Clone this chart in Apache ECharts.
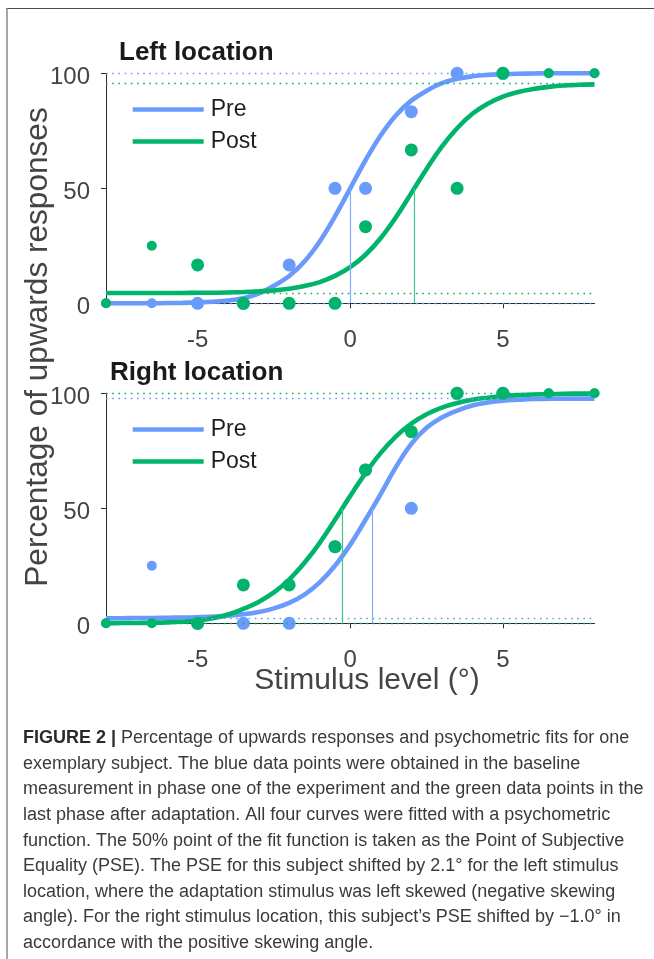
<!DOCTYPE html>
<html><head><meta charset="utf-8">
<script src="https://cdn.jsdelivr.net/npm/echarts@6/dist/echarts.min.js"></script>
<style>html,body{margin:0;padding:0;background:#fff}#c{width:654px;height:959px}</style>
</head><body><div id="c"></div>
<script>
// ---- data ----
const levels = [-8, -6.5, -5, -3.5, -2, -0.5, 0.5, 2, 3.5, 5, 6.5, 8];
const trials = [4, 4, 6, 6, 6, 6, 6, 6, 6, 6, 4, 4];
const leftPre   = [0, 0, 0, 0, 16.7, 50, 50, 83.3, 100, 100, 100, 100];
const leftPost  = [0, 25, 16.7, 0, 0, 0, 33.3, 66.7, 50, 100, 100, 100];
const rightPre  = [0, 25, 0, 0, 0, 33.3, 66.7, 50, 100, 100, 100, 100];
const rightPost = [0, 0, 0, 16.7, 16.7, 33.3, 66.7, 83.3, 100, 100, 100, 100];

const fitX = [-8,-7.5,-7,-6.5,-6,-5.5,-5,-4.5,-4,-3.5,-3,-2.5,-2,-1.5,-1,-0.5,0,0.5,1,1.5,2,2.5,3,3.5,4,4.5,5,5.5,6,6.5,7,7.5,8];
const leftPreFit   = [0,0,0,0,0.1,0.2,0.4,0.7,1.2,2.2,4.2,7.6,11.9,18.2,26.9,37.8,50,62.2,73.1,81.8,88.1,92.4,95.7,97.6,98.7,99.3,99.6,99.8,99.9,100,100,100,100];
const leftPostFit  = [4.5,4.5,4.5,4.5,4.5,4.5,4.6,4.6,4.7,4.9,5.2,5.6,6.3,7.5,9.2,11.9,15.7,21.1,28.4,37.5,47.9,58.4,68.1,76.1,82.4,86.8,89.9,91.9,93.2,94.1,94.7,95.0,95.2];
const rightPreFit  = [2.2,2.2,2.3,2.3,2.4,2.5,2.6,2.9,3.3,3.9,4.9,6.5,8.9,12.5,17.8,25.0,34.2,45.0,56.3,68.0,78.0,85.0,89.5,92.5,94.7,96.0,96.8,97.2,97.5,97.6,97.7,97.7,97.7];
const rightPostFit = [0.05,0.1,0.15,0.25,0.4,0.7,1.2,2.2,3.8,6.3,9.3,13.4,19.0,26.3,35.0,45.0,55.4,65.3,74.1,81.3,86.8,90.9,93.8,95.8,97.2,98.1,98.8,99.2,99.5,99.6,99.8,99.85,99.9];

const psePreLeft = 0, psePostLeft = 2.1, psePreRight = 0.72, psePostRight = -0.26;
const asymPreLeft = [0, 100], asymPostLeft = [4.4, 95.6];
const asymPreRight = [2.2, 97.8], asymPostRight = [0, 100];

const xTicks = [-5, 0, 5];
const yTicks = [0, 50, 100];
const seriesNames = ['Pre', 'Post'];
const panelTitles = ['Left location', 'Right location'];
const yTitle = 'Percentage of upwards responses';
const xTitle = 'Stimulus level (°)';
const captionLines = [
  '{b|FIGURE 2 |} Percentage of upwards responses and psychometric fits for one',
  'exemplary subject. The blue data points were obtained in the baseline',
  'measurement in phase one of the experiment and the green data points in the',
  'last phase after adaptation. All four curves were fitted with a psychometric',
  'function. The 50% point of the fit function is taken as the Point of Subjective',
  'Equality (PSE). The PSE for this subject shifted by 2.1° for the left stimulus',
  'location, where the adaptation stimulus was left skewed (negative skewing',
  'angle). For the right stimulus location, this subject’s PSE shifted by −1.0° in',
  'accordance with the positive skewing angle.'
];

// ---- style ----
const BLUE = '#6a9afc', GREEN = '#00b46c';
const BLUE_L = '#86adfd', GREEN_L = '#40c58f';
const FONT = '"Liberation Sans", Arial, Helvetica, sans-serif';
const AXC = '#2a2a2a', LBL = '#444';

const chart = echarts.init(document.getElementById('c'), null, {renderer: 'canvas'});

const grids = [
  {left: 106, top: 73.3, width: 488.5, height: 230},
  {left: 106, top: 393.3, width: 488.5, height: 230}
];

function xAxis(g) {
  return {
    type: 'value', gridIndex: g, min: -8, max: 8,
    axisLine: {show: true, onZero: false, lineStyle: {color: AXC, width: 1}},
    axisTick: {show: true, length: 5, customValues: xTicks, lineStyle: {color: AXC}},
    axisLabel: {show: true, customValues: xTicks, fontSize: 24, color: LBL, fontFamily: FONT, margin: 25},
    splitLine: {show: false}
  };
}
function yAxis(g) {
  return {
    type: 'value', gridIndex: g, min: 0, max: 100, interval: 50,
    axisLine: {show: true, onZero: false, lineStyle: {color: AXC, width: 1}},
    axisTick: {show: true, length: 5, customValues: yTicks, lineStyle: {color: AXC}},
    axisLabel: {show: true, customValues: yTicks, margin: 16,
      formatter: v => '{a|' + v + '}',
      rich: {a: {fontSize: 24, color: LBL, fontFamily: FONT, padding: [8, 0, 0, 0]}}},
    splitLine: {show: false}
  };
}

function dotSize(v) { return 4 + 1.5 * v[2]; }

function fitSeries(g, name, fit, color, colorL, pse, asym, z) {
  return {
    type: 'line', name: name, xAxisIndex: g, yAxisIndex: g,
    data: fitX.map((x, i) => [x, fit[i]]),
    smooth: 0.4, showSymbol: false, symbol: 'none', clip: false, z: z,
    color: color,
    lineStyle: {color: color, width: 4.6, cap: 'butt'},
    emphasis: {disabled: true},
    markLine: {
      silent: true, symbol: 'none', label: {show: false}, animation: false,
      emphasis: {disabled: true},
      data: [
        {yAxis: asym[0], lineStyle: {color: color, type: [1.6, 4.6], width: 1.3}},
        {yAxis: asym[1], lineStyle: {color: color, type: [1.6, 4.6], width: 1.3}},
        [{coord: [pse, 0], lineStyle: {color: colorL, type: 'solid', width: 1.2}}, {coord: [pse, 50]}]
      ]
    }
  };
}
function dotSeries(g, name, vals, color, z) {
  return {
    type: 'scatter', name: name, xAxisIndex: g, yAxisIndex: g,
    data: levels.map((x, i) => [x, vals[i], trials[i]]),
    symbol: 'circle', symbolSize: dotSize, clip: false, z: z,
    itemStyle: {color: color, opacity: 1},
    emphasis: {disabled: true}
  };
}

const series = [
  fitSeries(0, seriesNames[0], leftPreFit, BLUE, BLUE_L, psePreLeft, asymPreLeft, 2),
  fitSeries(0, seriesNames[1], leftPostFit, GREEN, GREEN_L, psePostLeft, asymPostLeft, 3),
  dotSeries(0, 'Pre data', leftPre, BLUE, 4),
  dotSeries(0, 'Post data', leftPost, GREEN, 5),
  fitSeries(1, seriesNames[0], rightPreFit, BLUE, BLUE_L, psePreRight, asymPreRight, 2),
  fitSeries(1, seriesNames[1], rightPostFit, GREEN, GREEN_L, psePostRight, asymPostRight, 3),
  dotSeries(1, 'Pre data', rightPre, BLUE, 4),
  dotSeries(1, 'Post data', rightPost, GREEN, 5)
];

function legend(top) {
  return {
    data: seriesNames, orient: 'vertical', left: 132.7, top: top, padding: 0,
    icon: 'rect', itemWidth: 71, itemHeight: 4.6, itemGap: 9,
    selectedMode: false,
    itemStyle: {borderWidth: 0},
    textStyle: {fontSize: 23, color: '#1e1e1e', fontFamily: FONT, padding: [0, 0, 0, 2]}
  };
}

const graphic = [
  {type: 'line', shape: {x1: 6, y1: 8.5, x2: 654, y2: 8.5}, style: {stroke: '#4a4a4a', lineWidth: 1.2}, silent: true},
  {type: 'line', shape: {x1: 7, y1: 8, x2: 7, y2: 959}, style: {stroke: '#8a8a8a', lineWidth: 1.5}, silent: true},
  {type: 'text', x: 119, y: 53, silent: true,
   style: {text: panelTitles[0], fontSize: 26, fontWeight: 'bold', fontFamily: FONT, fill: '#1a1a1a', verticalAlign: 'middle', align: 'left'}},
  {type: 'text', x: 110, y: 372.5, silent: true,
   style: {text: panelTitles[1], fontSize: 26, fontWeight: 'bold', fontFamily: FONT, fill: '#1a1a1a', verticalAlign: 'middle', align: 'left'}},
  {type: 'text', x: 38, y: 347, rotation: Math.PI / 2, silent: true,
   style: {text: yTitle, fontSize: 31.6, fontFamily: FONT, fill: LBL, verticalAlign: 'middle', align: 'center'}},
  {type: 'text', x: 367, y: 681, silent: true,
   style: {text: xTitle, fontSize: 30, fontFamily: FONT, fill: LBL, verticalAlign: 'middle', align: 'center'}},
  {type: 'text', x: 23, y: 725.5, silent: true,
   style: {text: captionLines.join('\n'), fontSize: 18, lineHeight: 25.6, fontFamily: FONT, fill: '#3a3a3a',
     verticalAlign: 'top', align: 'left',
     rich: {b: {fontSize: 18, lineHeight: 25.6, fontWeight: 'bold', fontFamily: FONT, fill: '#2a2a2a'}}}}
];

chart.setOption({
  animation: false,
  backgroundColor: '#fff',
  grid: grids.map(g => Object.assign({containLabel: false, outerBoundsMode: 'none'}, g)),
  xAxis: [xAxis(0), xAxis(1)],
  yAxis: [yAxis(0), yAxis(1)],
  legend: [legend(98), legend(418)],
  series: series,
  graphic: graphic
});
</script></body></html>
